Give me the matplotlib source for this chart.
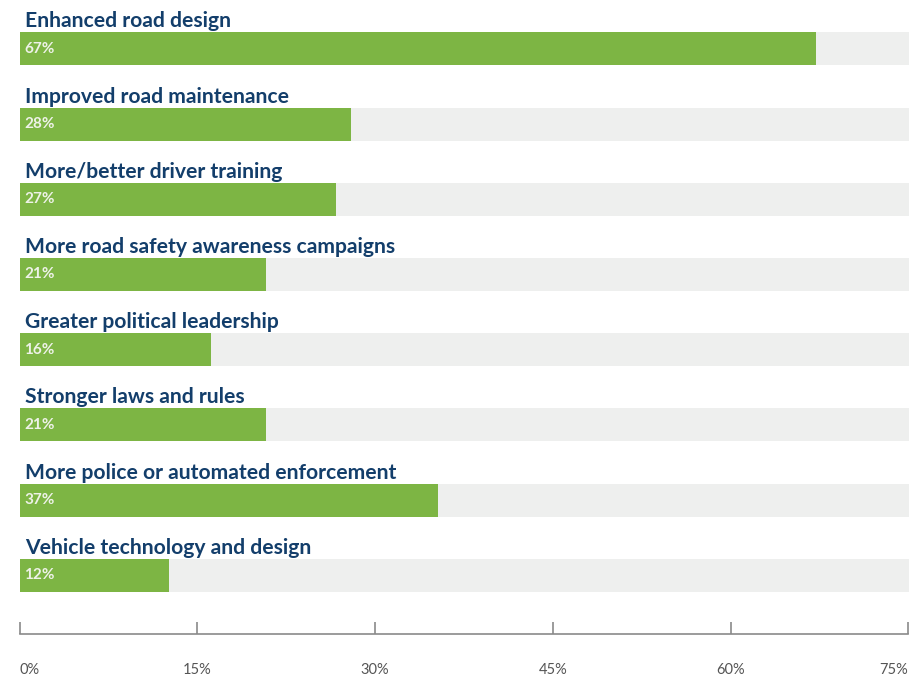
import matplotlib
matplotlib.use("Agg")
import matplotlib.pyplot as plt

categories = [
    "Enhanced road design",
    "Improved road maintenance",
    "More/better driver training",
    "More road safety awareness campaigns",
    "Greater political leadership",
    "Stronger laws and rules",
    "More police or automated enforcement",
    "Vehicle technology and design",
]
bar_values = [67.2, 28.0, 26.7, 20.8, 16.2, 20.8, 35.3, 12.6]
bar_labels = ["67%", "28%", "27%", "21%", "16%", "21%", "37%", "12%"]
xticks = [0, 15, 30, 45, 60, 75]
xtick_labels = ["0%", "15%", "30%", "45%", "60%", "75%"]

W, H = 922, 677
fig = plt.figure(figsize=(W / 100, H / 100), dpi=100)
left_px, right_px = 19.5, 908.3
top_px, bottom_px = 0, 634
ax = fig.add_axes([left_px / W, 1 - bottom_px / H, (right_px - left_px) / W, (bottom_px - top_px) / H])

px_per_unit = (right_px - left_px) / xticks[-1]
spacing = 75.2
first_center = 48.8
bar_h = 33 / spacing
ymin = (top_px - first_center) / spacing
ymax = (bottom_px - first_center) / spacing

green = "#7db544"
grey = "#eeefee"
navy = "#133e6b"

pos = list(range(len(categories)))
ax.barh(pos, [xticks[-1] + 0.1] * len(pos), height=bar_h, color=grey, clip_on=False, zorder=1)
ax.barh(pos, bar_values, height=bar_h, color=green, zorder=2)

for i, (cat, lab) in enumerate(zip(categories, bar_labels)):
    ax.text(5.5 / px_per_unit, i - bar_h / 2 - 5 / spacing, cat,
            fontsize=15.2, fontweight="bold", color=navy, family="Lato",
            ha="left", va="baseline", zorder=3)
    ax.text(4.5 / px_per_unit, i, lab, fontsize=11, fontweight="bold", color="#eef2e8",
            family="Lato", ha="left", va="center", zorder=3)

ax.set_xlim(0, xticks[-1])
ax.set_ylim(ymax, ymin)
ax.set_yticks([])
ax.set_xticks(xticks)
ax.set_xticklabels(xtick_labels, fontsize=10.5, color="#555555", family="Lato")
labs = ax.get_xticklabels()
labs[0].set_ha("left")
labs[-1].set_ha("right")
ax.tick_params(axis="x", direction="in", length=9, width=1.2, color="#8a8a8a", pad=21)
for s in ["top", "left", "right"]:
    ax.spines[s].set_visible(False)
ax.spines["bottom"].set_color("#8a8a8a")
ax.spines["bottom"].set_linewidth(1.2)
ax.set_facecolor("none")

fig.savefig("out.png", dpi=100)
